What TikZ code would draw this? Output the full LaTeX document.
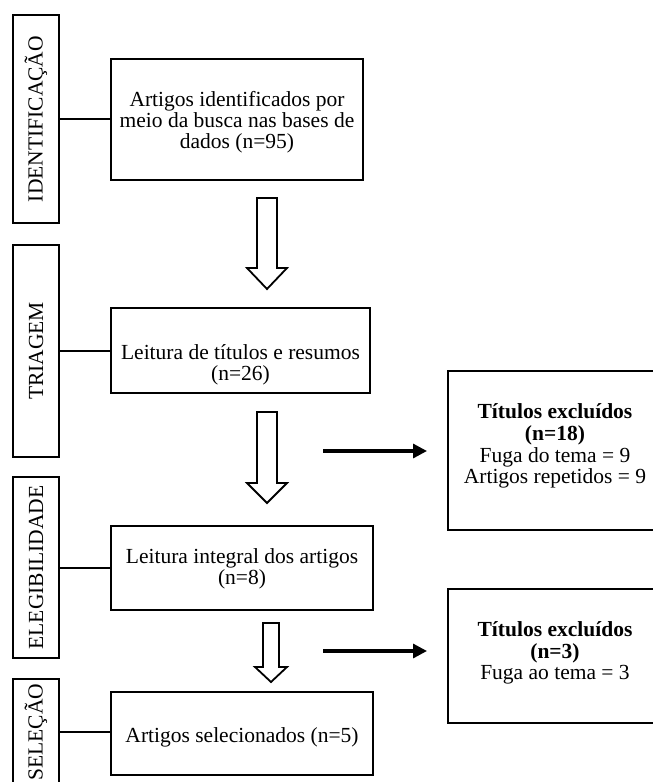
\documentclass[tikz,border=0pt]{standalone}
\usepackage{fontspec}
\setmainfont{Liberation Serif}
\usetikzlibrary{arrows.meta}
\begin{document}
\begin{tikzpicture}[x=1pt,y=-1pt,
  box/.style={draw, line width=2pt, inner sep=0pt, outer sep=0pt},
  stagebox/.style={box, minimum width=46pt},
  txt/.style={align=center, inner sep=0pt, font=\fontsize{21.5}{21}\selectfont},
  stagetxt/.style={txt, rotate=90},
  link/.style={line width=2pt},
  exclude/.style={-{Triangle[length=14pt,width=14pt]}, line width=3.2pt},
  hollow/.style={draw, line width=1.8pt, fill=white, line join=miter}
]
\useasboundingbox (0,0) rectangle (653,782);
\begin{scope}
\clip (0,0) rectangle (653,782);

% stage labels on the left
\node[stagebox, minimum height=208pt] (s1) at (36,119) {};
\node[stagetxt] (s1t) at (s1.center) {IDENTIFICAÇÃO};
\node[stagebox, minimum height=212pt] (s2) at (36,351) {};
\node[stagetxt] (s2t) at (s2.center) {TRIAGEM};
\node[stagebox, minimum height=181pt] (s3) at (36,567.5) {};
\node[stagetxt] (s3t) at (s3.center) {ELEGIBILIDADE};
\node[stagebox, minimum height=106pt] (s4) at (36,732) {};
\node[stagetxt] (s4t) at (s4.center) {SELEÇÃO};

% main flow boxes
\node[box, minimum width=252pt, minimum height=121pt] (b1) at (237,119.5) {};
\node[txt] (b1t) at (237,122) {Artigos identificados por\\meio da busca nas bases de\\dados (n=95)};
\node[box, minimum width=259pt, minimum height=85pt] (b2) at (240.5,350.5) {};
\node[txt] (b2t) at (240.5,364.5) {Leitura de títulos e resumos\\(n=26)};
\node[box, minimum width=262pt, minimum height=84pt] (b3) at (242,568) {};
\node[txt] (b3t) at (242,568.7) {Leitura integral dos artigos\\(n=8)};
\node[box, minimum width=262pt, minimum height=83pt] (b4) at (242,733.5) {};
\node[txt] (b4t) at (242,737.7) {Artigos selecionados (n=5)};

% stage-to-box links
\draw[link] (s1.east) -- (s1.east -| b1.west);
\draw[link] (s2.east) -- (s2.east -| b2.west);
\draw[link] (s3.east) -- (s3.east -| b3.west);
\draw[link] (s4.east) -- (s4.east -| b4.west);

% exclusion boxes
\node[box, minimum width=214pt, minimum height=159pt] (r1) at (555,450.5) {};
\node[txt, font=\fontsize{21.5}{21.8}\selectfont] (r1t) at (555,446) {\textbf{Títulos excluídos}\\\textbf{(n=18)}\\Fuga do tema = 9\\Artigos repetidos = 9};
\node[box, minimum width=214pt, minimum height=134pt] (r2) at (555,656) {};
\node[txt, font=\fontsize{21.5}{21.8}\selectfont] (r2t) at (555,653) {\textbf{Títulos excluídos}\\\textbf{(n=3)}\\Fuga ao tema = 3};

% hollow down arrows between steps
\draw[hollow] (257,198) -- (277,198) -- (277,268) -- (287,268) -- (267,289)
  -- (247,268) -- (257,268) -- cycle;
\draw[hollow] (257,412) -- (277,412) -- (277,483) -- (287,483) -- (267,503)
  -- (247,483) -- (257,483) -- cycle;
\draw[hollow] (263,623) -- (279,623) -- (279,667) -- (287,667) -- (271,682)
  -- (255,667) -- (263,667) -- cycle;

% exclusion arrows
\coordinate (e1s) at (323,451);
\coordinate (e1e) at (427,451);
\draw[exclude] (e1s) -- (e1e);
\coordinate (e2s) at (323,651);
\coordinate (e2e) at (427,651);
\draw[exclude] (e2s) -- (e2e);
\end{scope}
\end{tikzpicture}
\end{document}
